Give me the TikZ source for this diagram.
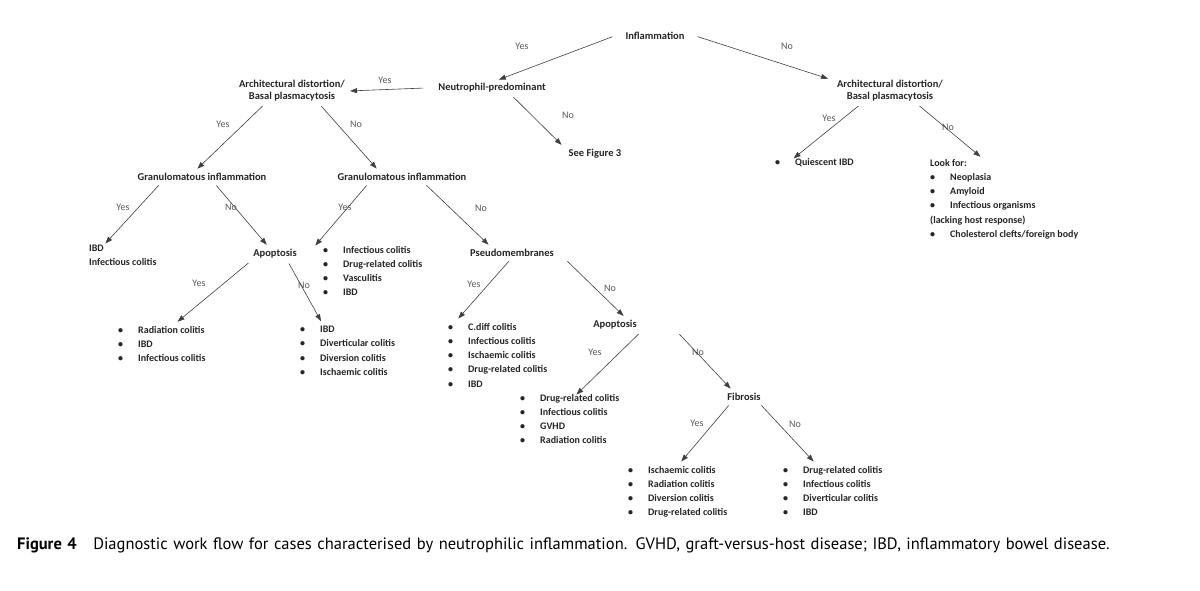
\documentclass[tikz,border=0pt]{standalone}
\usepackage{fontspec}
\setmainfont{Carlito}
\newfontfamily\capfont{PT Sans}
\usetikzlibrary{arrows.meta}
\begin{document}
\begin{tikzpicture}[x=1pt,y=-1pt,
  t/.style={font=\bfseries\fontsize{10.5}{12}\selectfont, text=black!85, inner sep=3pt, align=center},
  lst/.style={font=\bfseries\fontsize{10}{14.2}\selectfont, text=black!85, inner sep=3pt, align=left, anchor=north west},
  yn/.style={font=\fontsize{10}{12}\selectfont, text=black!65},
  arr/.style={draw=black!75, line width=0.6pt, -{Triangle[length=7pt,width=5pt]}, shorten <=2pt, shorten >=2pt}]
\useasboundingbox (0,0) rectangle (1200,590);
\fill[white] (0,0) rectangle (1200,590);
\newcommand{\bl}{\makebox[20pt][l]{\textbullet}}
% nodes
\node[t] (infl) at (655,36) {Inflammation};
\node[t] (neut) at (492,88) {Neutrophil-predominant};
\node[t] (archL) at (292,91) {Architectural distortion/\\Basal plasmacytosis};
\node[t] (archR) at (890,91) {Architectural distortion/\\Basal plasmacytosis};
\node[t] (fig3) at (595,154) {See Figure 3};
\node[lst, anchor=west] (quies) at (772,163) {\bl Quiescent IBD};
\node[lst] (look) at (927,156) {Look for:\\\bl Neoplasia\\\bl Amyloid\\\bl Infectious organisms\\(lacking host response)\\\bl Cholesterol clefts/foreign body};
\node[t] (granL) at (202,177) {Granulomatous inflammation};
\node[t] (granR) at (402,177) {Granulomatous inflammation};
\node[lst] (ibdL) at (86,242) {IBD\\Infectious colitis};
\node[t] (apoL) at (275,254) {Apoptosis};
\node[lst] (radL) at (115,323) {\bl Radiation colitis\\\bl IBD\\\bl Infectious colitis};
\node[lst] (divL) at (297,323) {\bl IBD\\\bl Diverticular colitis\\\bl Diversion colitis\\\bl Ischaemic colitis};
\node[lst] (infR) at (320,243) {\bl Infectious colitis\\\bl Drug-related colitis\\\bl Vasculitis\\\bl IBD};
\node[t] (pseudo) at (512,253) {Pseudomembranes};
\node[lst] (cdiff) at (445,320) {\bl C.diff colitis\\\bl Infectious colitis\\\bl Ischaemic colitis\\\bl Drug-related colitis\\\bl IBD};
\node[t] (apoR) at (615,325) {Apoptosis};
\node[lst] (drugA) at (517,391) {\bl Drug-related colitis\\\bl Infectious colitis\\\bl GVHD\\\bl Radiation colitis};
\node[t] (fib) at (744,397) {Fibrosis};
\node[lst] (isch) at (625,463) {\bl Ischaemic colitis\\\bl Radiation colitis\\\bl Diversion colitis\\\bl Drug-related colitis};
\node[lst] (drugB) at (780,463) {\bl Drug-related colitis\\\bl Infectious colitis\\\bl Diverticular colitis\\\bl IBD};
% yes/no labels
\node[yn] (y1) at (522,46) {Yes};
\node[yn] (n1) at (787,46) {No};
\node[yn] (y2) at (385,80) {Yes};
\node[yn] (n2) at (568,115) {No};
\node[yn] (y3) at (223,124) {Yes};
\node[yn] (n3) at (356,124) {No};
\node[yn] (y4) at (829,118) {Yes};
\node[yn] (n4) at (948,127) {No};
\node[yn] (y5) at (123,207) {Yes};
\node[yn] (n5) at (231,207) {No};
\node[yn] (y6) at (345,207) {Yes};
\node[yn] (n6) at (481,208) {No};
\node[yn] (y7) at (199,283) {Yes};
\node[yn] (n7) at (304,285) {No};
\node[yn] (y8) at (474,284) {Yes};
\node[yn] (n8) at (610,288) {No};
\node[yn] (y9) at (595,352) {Yes};
\node[yn] (n9) at (698,352) {No};
\node[yn] (y10) at (697,423) {Yes};
\node[yn] (n10) at (795,424) {No};
% connectors
\draw[arr] ([xshift=-8pt]infl.west) -- ([xshift=5pt]neut.north);
\draw[arr] ([xshift=8pt]infl.east) -- ([xshift=-60pt,yshift=-2pt]archR.north);
\draw[arr] ([xshift=-10pt]neut.west) -- ([xshift=0pt]archL.east);
\draw[arr] ([xshift=20pt]neut.south) -- ([xshift=-32pt]fig3.north);
\draw[arr] ([xshift=-28pt]archL.south) -- ([xshift=-6pt]granL.north);
\draw[arr] ([xshift=28pt]archL.south) -- ([xshift=-24pt]granR.north);
\draw[arr] ([xshift=-30pt]archR.south) -- ([xshift=20pt,yshift=-4pt]quies.north west);
\draw[arr] ([xshift=28pt]archR.south) -- ([xshift=55pt,yshift=-2pt]look.north west);
\draw[arr] ([xshift=-42pt]granL.south) -- ([xshift=18pt,yshift=-3pt]ibdL.north west);
\draw[arr] ([xshift=13pt]granL.south) -- ([xshift=-7pt]apoL.north);
\draw[arr] ([xshift=-25pt]apoL.south) -- ([xshift=61pt]radL.north west);
\draw[arr] ([xshift=13pt]apoL.south) -- ([xshift=25pt]divL.north west);
\draw[arr] ([xshift=-34pt]granR.south) -- ([xshift=-6pt,yshift=-4pt]infR.north west);
\draw[arr] ([xshift=23pt]granR.south) -- ([xshift=-22pt]pseudo.north);
\draw[arr] ([xshift=-2pt]pseudo.south) -- ([xshift=12pt]cdiff.north west);
\draw[arr] ([xshift=54pt]pseudo.south) -- ([xshift=10pt]apoR.north);
\draw[arr] ([xshift=25pt]apoR.south) -- ([xshift=58pt,yshift=-5pt]drugA.north west);
\draw[arr] ([xshift=63pt]apoR.south) -- ([xshift=-12pt]fib.north);
\draw[arr] ([xshift=-14pt]fib.south) -- ([xshift=55pt]isch.north west);
\draw[arr] ([xshift=16pt]fib.south) -- ([xshift=35pt]drugB.north west);
% caption
\node[anchor=north west, inner sep=0pt, align=left, text width=1170pt,
  font=\capfont\fontsize{16.5}{24.5}\selectfont] (cap) at (17,538)
  {\textbf{Figure 4}\quad Diagnostic work flow for cases characterised by neutrophilic inflammation. GVHD, graft-versus-host disease; IBD, inflammatory bowel disease.};
\end{tikzpicture}
\end{document}
